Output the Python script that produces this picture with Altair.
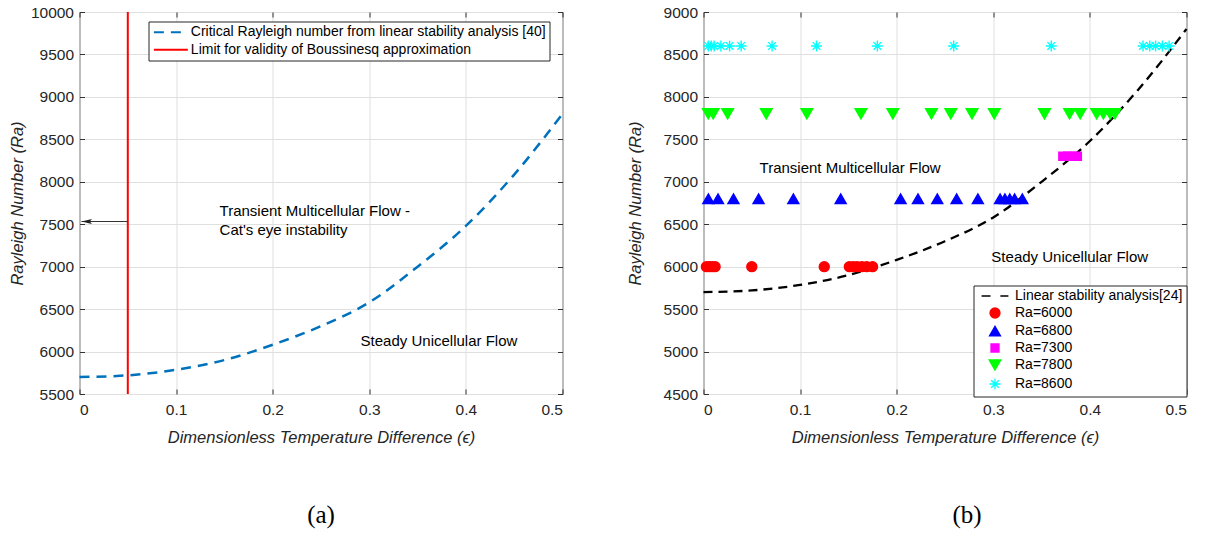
import altair as alt
import pandas as pd

# ---------------- shared ticks ----------------
x_ticks = [0, 0.1, 0.2, 0.3, 0.4, 0.5]
y_ticks_a = [5500, 6000, 6500, 7000, 7500, 8000, 8500, 9000, 9500, 10000]
y_ticks_b = [4500, 5000, 5500, 6000, 6500, 7000, 7500, 8000, 8500, 9000]
x_title = "Dimensionless Temperature Difference (ϵ)"
y_title = "Rayleigh Number (Ra)"

# ---------------- panel (a) data ----------------
eps_curve = [0.0, 0.05, 0.10, 0.15, 0.20, 0.25, 0.30, 0.35, 0.40, 0.45, 0.50]
ra_curve = [5700, 5720, 5785, 5900, 6080, 6300, 6580, 7000, 7480, 8085, 8800]
limit_eps = [0.05, 0.05]
limit_ra = [5500, 10000]
legend_a = ["Critical Rayleigh number from linear stability analysis [40]",
            "Limit for validity of Boussinesq approximation"]
colors_a = ["#0072BD", "#FF0000"]
arrow_from_eps = [0.05]
arrow_to_eps = [0.002]
arrow_ra = [7532]
notes_a_text = ["Transient Multicellular Flow -", "Cat's eye instability", "Steady Unicellular Flow"]
notes_a_eps = [0.145, 0.145, 0.291]
notes_a_ra = [7650, 7435, 6130]

# ---------------- panel (b) data ----------------
curve_b_eps = [0.0, 0.05, 0.10, 0.15, 0.20, 0.25, 0.30, 0.35, 0.40, 0.45, 0.50]
curve_b_ra = [5700, 5720, 5785, 5900, 6080, 6300, 6580, 7000, 7480, 8085, 8800]
series_b = ["Linear stability analysis[24]", "Ra=6000", "Ra=6800", "Ra=7300", "Ra=7800", "Ra=8600"]
colors_b = ["#000000", "#FF0000", "#0000FF", "#FF00FF", "#00FF00", "#00FFFF"]
ra_levels = [6000, 6800, 7300, 7800, 8600]
eps_6000 = [0.003, 0.006, 0.009, 0.012, 0.050, 0.125, 0.151, 0.155, 0.159, 0.164, 0.169, 0.175]
eps_6800 = [0.005, 0.015, 0.031, 0.057, 0.093, 0.142, 0.204, 0.222, 0.242, 0.262, 0.284,
            0.307, 0.312, 0.317, 0.322, 0.330]
eps_7300 = [0.372, 0.377, 0.382, 0.387]
eps_7800 = [0.005, 0.010, 0.025, 0.065, 0.107, 0.163, 0.196, 0.236, 0.256, 0.278, 0.301,
            0.353, 0.379, 0.390, 0.407, 0.414, 0.421, 0.426]
eps_8600 = [0.005, 0.008, 0.011, 0.018, 0.027, 0.039, 0.071, 0.117, 0.180, 0.259, 0.360,
            0.455, 0.462, 0.468, 0.475, 0.482]
notes_b_text = ["Transient Multicellular Flow", "Steady Unicellular Flow"]
notes_b_eps = [0.058, 0.298]
notes_b_ra = [7160, 6114]

DASH_PATH = "M-3,0H-1M1.2,0H3"
STAR_PATH = "M0,-1V1M-1,0H1M-0.7,-0.7L0.7,0.7M-0.7,0.7L0.7,-0.7"
ARROW_PATH = "M0,0L3.5,-0.8L2.8,0L3.5,0.8Z"
shapes_b = [DASH_PATH, "circle", "triangle-up", "square", "triangle-down", STAR_PATH]
sizes_b = [80, 100, 121, 64, 137, 120]

FONT = "Liberation Sans"
W, H = 483, 382
GAP = 141

# ---------------- tables ----------------
curve_a_df = pd.DataFrame({"eps": eps_curve, "Ra": ra_curve, "series": legend_a[0]})
limit_df = pd.DataFrame({"eps": limit_eps, "Ra": limit_ra, "series": legend_a[1]})
arrow_df = pd.DataFrame({"x0": arrow_from_eps, "x1": arrow_to_eps, "y": arrow_ra})
notes_a_df = pd.DataFrame({"eps": notes_a_eps, "Ra": notes_a_ra, "label": notes_a_text})

curve_b_df = pd.DataFrame({"eps": curve_b_eps, "Ra": curve_b_ra})
rows = []
for name, ra, elist in zip(series_b[1:], ra_levels, [eps_6000, eps_6800, eps_7300, eps_7800, eps_8600]):
    for e in elist:
        rows.append({"eps": e, "Ra": ra, "series": name})
pts_df = pd.DataFrame(rows)
notes_b_df = pd.DataFrame({"eps": notes_b_eps, "Ra": notes_b_ra, "label": notes_b_text})

# ---------------- scales & axes ----------------
xs = alt.Scale(domain=[0, 0.5], nice=False, zero=False)
ys_a = alt.Scale(domain=[5500, 10000], nice=False, zero=False)
ys_b = alt.Scale(domain=[4500, 9000], nice=False, zero=False)


def x_main():
    return alt.Axis(orient="bottom", values=x_ticks, format="~g", offset=-5, tickSize=5,
                    labelPadding=8, title=x_title, titlePadding=12, grid=True, domain=False)


def y_main(vals, tp):
    return alt.Axis(orient="left", values=vals, format="d", offset=-5, tickSize=5,
                    labelPadding=6, title=y_title, titlePadding=tp, grid=True, domain=False)


def x_top():
    return alt.Axis(orient="top", values=x_ticks, offset=-5, tickSize=5, labels=False,
                    title=None, grid=False, domain=False)


def y_right(vals):
    return alt.Axis(orient="right", values=vals, offset=-5, tickSize=5, labels=False,
                    title=None, grid=False, domain=False)


# ---------------- panel (a) ----------------
leg_a = alt.Legend(title=None, orient="none", legendX=69, legendY=9.5, fillColor="white",
                   strokeColor="#262626", padding=3.75, rowPadding=3.5, labelFont=FONT,
                   labelFontSize=14, labelColor="black", labelLimit=1000,
                   symbolType="M-3,0H3", symbolSize=128,
                   symbolStrokeWidth=2, symbolOffset=11.6, labelOffset=13)
color_a = alt.Scale(domain=legend_a, range=colors_a)
dash_a = alt.Scale(domain=legend_a, range=[[10, 7], [1, 0]])

a1 = alt.Chart(curve_a_df).mark_line(strokeWidth=2.5, interpolate="monotone").encode(
    x=alt.X("eps:Q", scale=xs, axis=x_main()),
    y=alt.Y("Ra:Q", scale=ys_a, axis=y_main(y_ticks_a, 4.5)),
    color=alt.Color("series:N", scale=color_a, legend=leg_a),
    strokeDash=alt.StrokeDash("series:N", scale=dash_a, legend=leg_a),
)
a2 = alt.Chart(limit_df).mark_line(strokeWidth=2).encode(
    x=alt.X("eps:Q", scale=xs, axis=x_top()),
    y=alt.Y("Ra:Q", scale=ys_a, axis=y_right(y_ticks_a)),
    color=alt.Color("series:N", scale=color_a, legend=leg_a),
    strokeDash=alt.StrokeDash("series:N", scale=dash_a, legend=leg_a),
)
a3 = alt.Chart(arrow_df).mark_rule(color="#333333", strokeWidth=1).encode(
    x=alt.X("x0:Q", scale=xs, axis=None),
    x2="x1:Q",
    y=alt.Y("y:Q", scale=ys_a, axis=None),
)
a4 = alt.Chart(arrow_df).mark_point(shape=ARROW_PATH, size=36, filled=True, color="#222222",
                                    opacity=1).encode(
    x=alt.X("x1:Q", scale=xs, axis=None),
    y=alt.Y("y:Q", scale=ys_a, axis=None),
)
a5 = alt.Chart(notes_a_df).mark_text(align="left", baseline="middle", font=FONT, fontSize=15,
                                     color="black").encode(
    x=alt.X("eps:Q", scale=xs, axis=None),
    y=alt.Y("Ra:Q", scale=ys_a, axis=None),
    text="label:N",
)
panel_a = alt.layer(a1, a2, a3, a4, a5).resolve_axis(x="independent", y="independent").properties(
    width=W, height=H,
    title=alt.TitleParams("(a)", orient="bottom", frame="group", anchor="middle",
                          font="Liberation Serif", fontSize=25, fontWeight="normal",
                          color="black", offset=57),
)

# ---------------- panel (b) ----------------
# legends are positioned from the top-left corner of the first panel's plot area
leg_b = alt.Legend(title=None, orient="none", legendX=W + GAP + 270, legendY=273.5,
                   fillColor="white", strokeColor="#262626", padding=3.5, rowPadding=2,
                   labelFont=FONT, labelFontSize=14, labelColor="black", labelLimit=1000,
                   symbolStrokeWidth=1.3, symbolOffset=11, labelOffset=13)
b1 = alt.Chart(curve_b_df).mark_line(strokeWidth=2.3, interpolate="monotone", color="black",
                                     strokeDash=[9, 6]).encode(
    x=alt.X("eps:Q", scale=xs, axis=x_main()),
    y=alt.Y("Ra:Q", scale=ys_b, axis=y_main(y_ticks_b, 20)),
)
b2 = alt.Chart(pts_df).mark_point(filled=True, strokeWidth=1.4, opacity=1).encode(
    x=alt.X("eps:Q", scale=xs, axis=x_top()),
    y=alt.Y("Ra:Q", scale=ys_b, axis=y_right(y_ticks_b)),
    fill=alt.Fill("series:N", scale=alt.Scale(domain=series_b, range=colors_b), legend=leg_b),
    stroke=alt.Stroke("series:N", scale=alt.Scale(domain=series_b, range=colors_b), legend=leg_b),
    shape=alt.Shape("series:N", scale=alt.Scale(domain=series_b, range=shapes_b), legend=leg_b),
    size=alt.Size("series:N", scale=alt.Scale(type="ordinal", domain=series_b, range=sizes_b),
                  legend=leg_b),
)
b3 = alt.Chart(notes_b_df).mark_text(align="left", baseline="middle", font=FONT, fontSize=15,
                                     color="black").encode(
    x=alt.X("eps:Q", scale=xs, axis=None),
    y=alt.Y("Ra:Q", scale=ys_b, axis=None),
    text="label:N",
)
panel_b = alt.layer(b1, b2, b3).resolve_axis(x="independent", y="independent").properties(
    width=W, height=H,
    title=alt.TitleParams("(b)", orient="bottom", frame="group", anchor="middle",
                          font="Liberation Serif", fontSize=25, fontWeight="normal",
                          color="black", offset=57, dx=22),
)

chart = alt.hconcat(panel_a, panel_b, spacing=GAP, bounds="flush").properties(
    padding={"left": 8.5, "top": 4, "right": 5, "bottom": 5},
    background="white",
).configure_view(stroke="#333333", strokeWidth=1).configure_axis(
    labelFont=FONT, labelFontSize=15.5, labelColor="#262626",
    titleFont=FONT, titleFontSize=16.5, titleFontStyle="italic", titleFontWeight="normal",
    titleColor="#262626", tickColor="#333333", gridColor="#dfdfdf", gridWidth=1,
)

chart.save("out.html", embed_options={"renderer": "svg", "actions": False})
